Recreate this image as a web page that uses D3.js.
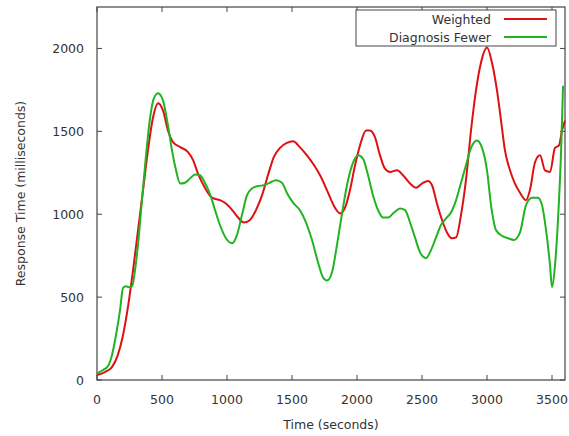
<!DOCTYPE html>
<html>
<head>
<meta charset="utf-8">
<script src="https://cdn.jsdelivr.net/npm/d3@7"></script>
<style>
  html, body { margin: 0; padding: 0; background: #fff; }
  svg { display: block; }
  text { font-family: "DejaVu Sans", sans-serif; }
</style>
</head>
<body>
<svg id="chart" width="569" height="436"></svg>
<script>
const seriesNames = ["Weighted", "Diagnosis Fewer"];
const seriesColors = ["#dd1111", "#22b322"];

const weightedTime = [0,60,115,160,200,240,277,315,354,392,430,470,508,546,585,640,700,740,777,830,885,946,992,1040,1085,1130,1177,1223,1270,1315,1360,1408,1460,1508,1560,1615,1670,1723,1777,1830,1870,1908,1946,1985,2023,2070,2100,2138,2177,2215,2254,2308,2354,2408,2454,2500,2546,2577,2615,2654,2692,2730,2762,2800,2838,2877,2915,2954,3000,3038,3077,3108,3138,3177,3215,3254,3300,3330,3370,3408,3446,3485,3523,3554,3577,3600];
const weightedValues = [30,48,78,150,270,450,660,900,1145,1385,1580,1670,1625,1505,1435,1405,1375,1325,1245,1160,1100,1085,1065,1025,980,950,965,1025,1115,1235,1345,1400,1430,1440,1405,1355,1295,1225,1130,1040,1005,1040,1145,1295,1415,1505,1505,1465,1355,1275,1255,1265,1235,1185,1160,1185,1200,1175,1065,965,890,855,860,995,1205,1505,1745,1915,2005,1915,1745,1565,1385,1265,1185,1130,1085,1145,1315,1355,1265,1255,1400,1415,1505,1565];

const fewerTime = [0,46,85,115,146,177,200,223,246,270,292,315,346,377,408,438,470,508,546,577,608,640,677,715,754,792,830,870,908,946,992,1040,1077,1115,1154,1192,1238,1285,1330,1377,1423,1460,1508,1560,1608,1654,1700,1738,1770,1808,1846,1885,1923,1962,2008,2046,2085,2123,2162,2200,2238,2285,2331,2370,2408,2446,2485,2531,2570,2608,2646,2685,2723,2762,2800,2838,2877,2923,2962,3000,3031,3069,3115,3162,3208,3254,3300,3346,3392,3423,3454,3485,3500,3523,3546,3570,3585];
const fewerValues = [40,60,85,150,270,420,555,565,560,565,660,815,1085,1355,1580,1700,1730,1685,1535,1385,1265,1185,1190,1215,1240,1235,1190,1120,1025,935,855,825,875,995,1115,1155,1170,1175,1190,1205,1190,1130,1070,1025,950,845,710,620,600,650,815,1005,1175,1295,1355,1335,1235,1115,1025,980,980,1010,1035,1025,950,860,770,735,785,860,935,975,1010,1085,1190,1295,1400,1445,1400,1265,1055,905,870,855,845,890,1055,1100,1100,1055,905,690,560,690,965,1385,1775];

const xTicks = [0,500,1000,1500,2000,2500,3000,3500];
const yTicks = [0,500,1000,1500,2000];

const svg = d3.select("#chart");
const margin = {left: 97, right: 4, top: 7, bottom: 56};
const W = 569, H = 436;
const x = d3.scaleLinear().domain([0, 3600]).range([margin.left, W - margin.right]);
const y = d3.scaleLinear().domain([0, 2250]).range([H - margin.bottom, margin.top]);

const axisColor = "#444";
const textColor = "#333";

// Border box
svg.append("rect")
  .attr("x", x(0)).attr("y", y(2250))
  .attr("width", x(3600) - x(0)).attr("height", y(0) - y(2250))
  .attr("fill", "none").attr("stroke", axisColor).attr("stroke-width", 1.2);

// Ticks (inward, mirrored)
const tl = 5;
const tg = svg.append("g").attr("stroke", axisColor).attr("stroke-width", 1);
xTicks.forEach(t => {
  tg.append("line").attr("x1", x(t)).attr("x2", x(t)).attr("y1", y(0)).attr("y2", y(0) - tl);
  tg.append("line").attr("x1", x(t)).attr("x2", x(t)).attr("y1", y(2250)).attr("y2", y(2250) + tl);
});
yTicks.forEach(t => {
  tg.append("line").attr("x1", x(0)).attr("x2", x(0) + tl).attr("y1", y(t)).attr("y2", y(t));
  tg.append("line").attr("x1", x(3600)).attr("x2", x(3600) - tl).attr("y1", y(t)).attr("y2", y(t));
});

// Tick labels
svg.append("g").selectAll("text").data(xTicks).join("text")
  .attr("x", d => x(d)).attr("y", y(0) + 24)
  .attr("text-anchor", "middle").attr("font-size", 12.5).attr("fill", textColor)
  .text(d => d);
svg.append("g").selectAll("text").data(yTicks).join("text")
  .attr("x", x(0) - 13).attr("y", d => y(d) + 4.5)
  .attr("text-anchor", "end").attr("font-size", 12.5).attr("fill", textColor)
  .text(d => d);

// Axis titles
svg.append("text").attr("x", (x(0) + x(3600)) / 2).attr("y", 429)
  .attr("text-anchor", "middle").attr("font-size", 12.5).attr("fill", textColor)
  .text("Time (seconds)");
svg.append("text")
  .attr("transform", `translate(25, ${(y(0) + y(2250)) / 2}) rotate(-90)`)
  .attr("text-anchor", "middle").attr("font-size", 12.5).attr("fill", textColor)
  .text("Response Time (milliseconds)");

// Lines
const line = d3.line().x(d => x(d[0])).y(d => y(d[1])).curve(d3.curveMonotoneX);
const data = [
  d3.zip(weightedTime, weightedValues),
  d3.zip(fewerTime, fewerValues)
];
const plot = svg.append("g");
plot.append("path").datum(data[0]).attr("d", line)
  .attr("fill", "none").attr("stroke", seriesColors[0]).attr("stroke-width", 2);
plot.append("path").datum(data[1]).attr("d", line)
  .attr("fill", "none").attr("stroke", seriesColors[1]).attr("stroke-width", 2);

// Legend
const lg = svg.append("g");
lg.append("rect").attr("x", 356).attr("y", 10).attr("width", 200).attr("height", 36)
  .attr("fill", "#fff").attr("stroke", axisColor).attr("stroke-width", 1);
seriesNames.forEach((n, i) => {
  const yy = 19 + i * 18;
  lg.append("text").attr("x", 491).attr("y", yy + 4.5)
    .attr("text-anchor", "end").attr("font-size", 12.5).attr("fill", textColor).text(n);
  lg.append("line").attr("x1", 504).attr("x2", 547).attr("y1", yy).attr("y2", yy)
    .attr("stroke", seriesColors[i]).attr("stroke-width", 2);
});
</script>
</body>
</html>
